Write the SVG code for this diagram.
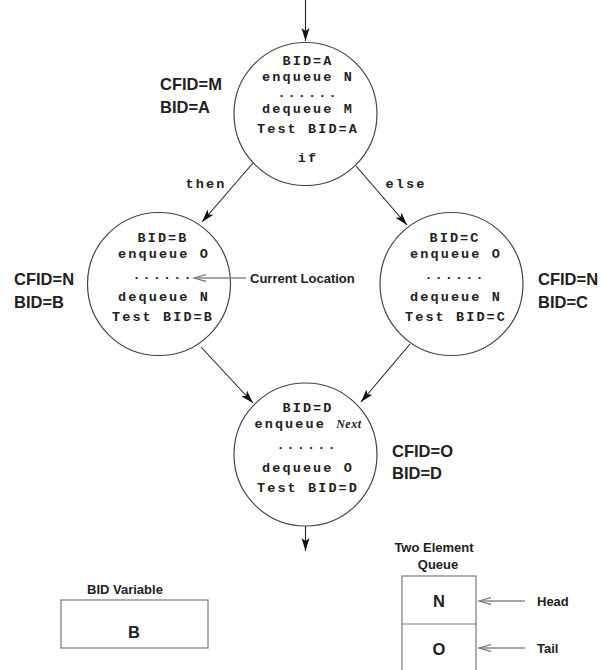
<svg xmlns="http://www.w3.org/2000/svg" width="601" height="670" viewBox="0 0 601 670">
<style>
.node{fill:#fff;stroke:#444;stroke-width:1.2}
.code{font-family:"Liberation Mono","DejaVu Sans Mono",monospace;font-weight:bold;font-size:13.5px;letter-spacing:2.1px;fill:#222;text-anchor:middle}
.lbl{font-family:"Liberation Sans",Arial,sans-serif;font-weight:bold;font-size:16.5px;fill:#222}
.small{font-family:"Liberation Sans",Arial,sans-serif;font-weight:bold;font-size:13px;fill:#222}
.edge{stroke:#222;stroke-width:1.1;fill:none}
.ptr{stroke:#888;stroke-width:1.3;fill:none}
.box{fill:#fff;stroke:#777;stroke-width:1.2}
</style>
<defs>
<marker id="arr" markerUnits="userSpaceOnUse" markerWidth="14" markerHeight="10" refX="13" refY="4" orient="auto">
<path d="M0,0 L13,4 L0,8 L3,4 Z" fill="#111"/>
</marker>
<marker id="open" markerUnits="userSpaceOnUse" markerWidth="14" markerHeight="10" refX="12" refY="4" orient="auto">
<path d="M0,0.5 L12,4 L0,7.5" fill="none" stroke="#777" stroke-width="1.3"/>
</marker>
</defs>
<g id="connectors">
<line class="edge" x1="305.5" y1="0" x2="305.5" y2="41" marker-end="url(#arr)"/>
<line class="edge" x1="253" y1="163" x2="202" y2="222" marker-end="url(#arr)"/>
<line class="edge" x1="356" y1="166" x2="407" y2="225" marker-end="url(#arr)"/>
<line class="edge" x1="201" y1="347" x2="253" y2="403" marker-end="url(#arr)"/>
<line class="edge" x1="410" y1="344" x2="361" y2="402" marker-end="url(#arr)"/>
<line class="edge" x1="305.5" y1="526" x2="305.5" y2="551" marker-end="url(#arr)"/>
<text class="code" x="206" y="188">then</text>
<text class="code" x="406" y="188">else</text>
</g>
<g id="nodeA">
<circle class="node" cx="305.5" cy="114" r="71.5"/>
<text class="code" x="308" y="65">BID=A</text>
<text class="code" x="308" y="81">enqueue N</text>
<text class="code" x="308" y="97">......</text>
<text class="code" x="308" y="113">dequeue M</text>
<text class="code" x="308" y="133">Test BID=A</text>
<text class="code" x="308" y="162">if</text>
<text class="lbl" x="160" y="90">CFID=M</text>
<text class="lbl" x="160" y="113">BID=A</text>
</g>
<g id="nodeB">
<circle class="node" cx="159" cy="284" r="71.5"/>
<text class="code" x="163" y="242">BID=B</text>
<text class="code" x="164" y="258">enqueue O</text>
<text class="code" x="163" y="279">......</text>
<text class="code" x="164" y="301">dequeue N</text>
<text class="code" x="163" y="321">Test BID=B</text>
<text class="lbl" x="14" y="285">CFID=N</text>
<text class="lbl" x="14" y="308">BID=B</text>
</g>
<g id="nodeC">
<circle class="node" cx="451.5" cy="284" r="71.5"/>
<text class="code" x="455" y="242">BID=C</text>
<text class="code" x="456" y="258">enqueue O</text>
<text class="code" x="455" y="279">......</text>
<text class="code" x="456" y="301">dequeue N</text>
<text class="code" x="456" y="321">Test BID=C</text>
<text class="lbl" x="538" y="285">CFID=N</text>
<text class="lbl" x="538" y="308">BID=C</text>
</g>
<g id="nodeD">
<circle class="node" cx="305.5" cy="454.5" r="71.5"/>
<text class="code" x="308" y="412">BID=D</text>
<text class="code" x="308" y="428">enqueue <tspan font-family="'Liberation Serif',serif" font-style="italic" font-size="12" letter-spacing="0.5">Next</tspan></text>
<text class="code" x="307" y="449">......</text>
<text class="code" x="308" y="472">dequeue O</text>
<text class="code" x="308" y="492">Test BID=D</text>
<text class="lbl" x="392" y="457">CFID=O</text>
<text class="lbl" x="392" y="479">BID=D</text>
</g>
<g id="current-location">
<line class="ptr" x1="246" y1="278" x2="194" y2="278" marker-end="url(#open)"/>
<text class="small" x="250" y="283">Current Location</text>
</g>
<g id="bid-variable">
<text class="small" x="87" y="594">BID Variable</text>
<rect class="box" x="61" y="600" width="147" height="48"/>
<text class="lbl" x="134" y="638" text-anchor="middle">B</text>
</g>
<g id="queue">
<text class="small" x="434" y="552" text-anchor="middle">Two Element</text>
<text class="small" x="438" y="569" text-anchor="middle">Queue</text>
<rect class="box" x="402" y="576" width="74" height="100"/>
<line class="box" x1="402" y1="624" x2="476" y2="624"/>
<text class="lbl" x="439" y="607" text-anchor="middle">N</text>
<text class="lbl" x="439" y="655" text-anchor="middle">O</text>
<line class="ptr" x1="525" y1="601" x2="479" y2="601" marker-end="url(#open)"/>
<line class="ptr" x1="525" y1="648" x2="479" y2="648" marker-end="url(#open)"/>
<text class="small" x="537" y="606">Head</text>
<text class="small" x="537" y="653">Tail</text>
</g>
</svg>
